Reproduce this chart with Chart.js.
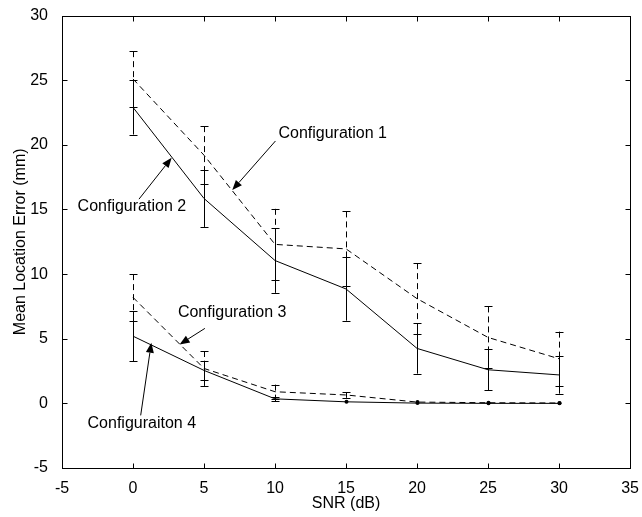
<!DOCTYPE html>
<html>
<head>
<meta charset="utf-8">
<script src="https://cdn.jsdelivr.net/npm/chart.js@4.4.0/dist/chart.umd.min.js"></script>
<style>
    body { margin: 0; background: #fff; }
    #wrap { width: 642px; height: 517px; }
</style>
</head>
<body>
<div id="wrap"><canvas id="grafico" width="642" height="517"></canvas></div>
<script>
var snr = [0, 5, 10, 15, 20, 25, 30];

var config1 = [25.1, 19.2, 12.3, 11.95, 8.1, 5.1, 3.45];
var err1 = [2.15, 2.25, 2.75, 2.9, 2.75, 2.4, 2.1];

var config2 = [22.9, 15.85, 11.05, 8.85, 4.25, 2.6, 2.2];
var err2 = [2.1, 2.2, 2.5, 2.45, 1.95, 1.6, 1.45];

var config3 = [8.2, 2.7, 0.9, 0.65, 0.1, 0.05, 0.03];
var err3 = [1.8, 1.35, 0.55, 0.22, 0.05, 0.02, 0.01];

var config4 = [5.2, 2.55, 0.35, 0.12, 0.02, 0, 0];
var err4 = [1.95, 0.75, 0.18, 0.06, 0.02, 0.01, 0.01];

var xTicks = [-5, 0, 5, 10, 15, 20, 25, 30, 35];
var yTicks = [-5, 0, 5, 10, 15, 20, 25, 30];

// labels: text, text position (data units), arrow start, arrow tip
var notas = [
    { texto: "Configuration 1", x: 10.24, y: 20.9, de: [10.03, 20.3], para: [6.99, 16.5] },
    { texto: "Configuration 2", x: -3.9, y: 15.2, de: [0.42, 15.8], para: [2.72, 19.0] },
    { texto: "Configuration 3", x: 3.16, y: 7.0, de: [5.06, 5.8], para: [3.28, 4.56] },
    { texto: "Configuraiton 4", x: -3.2, y: -1.57, de: [0.54, -0.93], para: [1.29, 4.69] }
];

var fonte = "'Liberation Sans', Arial, sans-serif";

function pontos(valores) {
    var lista = [];
    for (var i = 0; i < snr.length; i++) {
        lista.push({ x: snr[i], y: valores[i] });
    }
    return lista;
}

function serie(nome, valores, erros, tracejado) {
    return {
        label: nome,
        data: pontos(valores),
        erros: erros,
        borderColor: '#000',
        borderWidth: 1,
        borderDash: tracejado ? [6, 4] : [],
        pointRadius: 0,
        fill: false,
        tension: 0
    };
}

var errorBars = {
    id: 'errorBars',
    afterDatasetsDraw: function (chart) {
        var ctx = chart.ctx;
        var xs = chart.scales.x;
        var ys = chart.scales.y;
        ctx.save();
        ctx.strokeStyle = '#000';
        ctx.fillStyle = '#000';
        ctx.lineWidth = 1;
        chart.data.datasets.forEach(function (ds) {
            ds.data.forEach(function (p, i) {
                var e = ds.erros[i];
                var px = Math.round(xs.getPixelForValue(p.x)) + 0.5;
                var top = ys.getPixelForValue(p.y + e);
                var bot = ys.getPixelForValue(p.y - e);
                if (bot - top < 2) {
                    // tiny bar collapses to a dot, like the original
                    ctx.beginPath();
                    ctx.arc(px, ys.getPixelForValue(p.y), 2, 0, Math.PI * 2);
                    ctx.fill();
                    return;
                }
                ctx.setLineDash(ds.borderDash);
                ctx.beginPath();
                ctx.moveTo(px, top);
                ctx.lineTo(px, bot);
                ctx.stroke();
                ctx.setLineDash([]);
                ctx.beginPath();
                ctx.moveTo(px - 4, Math.round(top) + 0.5);
                ctx.lineTo(px + 4, Math.round(top) + 0.5);
                ctx.moveTo(px - 4, Math.round(bot) + 0.5);
                ctx.lineTo(px + 4, Math.round(bot) + 0.5);
                ctx.stroke();
            });
        });
        ctx.restore();
    }
};

var moldura = {
    id: 'moldura',
    afterDraw: function (chart) {
        var ctx = chart.ctx;
        var a = chart.chartArea;
        var xs = chart.scales.x;
        var ys = chart.scales.y;
        var l = Math.round(a.left) + 0.5, r = Math.round(a.right) + 0.5;
        var t = Math.round(a.top) + 0.5, b = Math.round(a.bottom) + 0.5;
        ctx.save();
        ctx.strokeStyle = '#000';
        ctx.lineWidth = 1;
        ctx.strokeRect(l, t, r - l, b - t);
        ctx.beginPath();
        xTicks.forEach(function (v) {
            var px = Math.round(xs.getPixelForValue(v)) + 0.5;
            ctx.moveTo(px, b); ctx.lineTo(px, b - 5);
            ctx.moveTo(px, t); ctx.lineTo(px, t + 5);
        });
        yTicks.forEach(function (v) {
            var py = Math.round(ys.getPixelForValue(v)) + 0.5;
            ctx.moveTo(l, py); ctx.lineTo(l + 5, py);
            ctx.moveTo(r, py); ctx.lineTo(r - 5, py);
        });
        ctx.stroke();

        // annotations
        ctx.fillStyle = '#000';
        ctx.font = '16px ' + fonte;
        ctx.textBaseline = 'middle';
        ctx.textAlign = 'left';
        notas.forEach(function (n) {
            ctx.fillText(n.texto, xs.getPixelForValue(n.x), ys.getPixelForValue(n.y));
            var x0 = xs.getPixelForValue(n.de[0]), y0 = ys.getPixelForValue(n.de[1]);
            var x1 = xs.getPixelForValue(n.para[0]), y1 = ys.getPixelForValue(n.para[1]);
            var ang = Math.atan2(y1 - y0, x1 - x0);
            var comp = 10, larg = 4;
            var bx = x1 - comp * Math.cos(ang), by = y1 - comp * Math.sin(ang);
            ctx.beginPath();
            ctx.moveTo(x0, y0);
            ctx.lineTo(bx, by);
            ctx.stroke();
            ctx.beginPath();
            ctx.moveTo(x1, y1);
            ctx.lineTo(bx + larg * Math.sin(ang), by - larg * Math.cos(ang));
            ctx.lineTo(bx - larg * Math.sin(ang), by + larg * Math.cos(ang));
            ctx.closePath();
            ctx.fill();
        });
        ctx.restore();
    }
};

var grafico = new Chart(document.getElementById('grafico'), {
    type: 'line',
    data: {
        datasets: [
            serie('Configuration 1', config1, err1, true),
            serie('Configuration 2', config2, err2, false),
            serie('Configuration 3', config3, err3, true),
            serie('Configuraiton 4', config4, err4, false)
        ]
    },
    options: {
        responsive: false,
        animation: false,
        layout: { padding: { left: 0, top: 15, right: 11, bottom: 0 } },
        plugins: { legend: { display: false }, tooltip: { enabled: false } },
        scales: {
            x: {
                type: 'linear', min: -5, max: 35,
                afterBuildTicks: function (scale) {
                    scale.ticks = xTicks.map(function (v) { return { value: v }; });
                },
                afterFit: function (scale) { scale.height = 49; },
                grid: { display: false },
                border: { display: false },
                ticks: { color: '#000', padding: 3, maxRotation: 0, font: { family: fonte, size: 16 } },
                title: {
                    display: true, text: 'SNR (dB)', color: '#000',
                    padding: { top: 0, bottom: 4 },
                    font: { family: fonte, size: 16 }
                }
            },
            y: {
                type: 'linear', min: -5, max: 30,
                afterBuildTicks: function (scale) {
                    scale.ticks = yTicks.map(function (v) { return { value: v }; });
                },
                afterFit: function (scale) { scale.width = 62; },
                grid: { display: false },
                border: { display: false },
                ticks: { color: '#000', padding: 6, font: { family: fonte, size: 16 } },
                title: {
                    display: true, text: 'Mean Location Error (mm)', color: '#000',
                    padding: { top: 11, bottom: 0 },
                    font: { family: fonte, size: 16 }
                }
            }
        }
    },
    plugins: [errorBars, moldura]
});
</script>
</body>
</html>
